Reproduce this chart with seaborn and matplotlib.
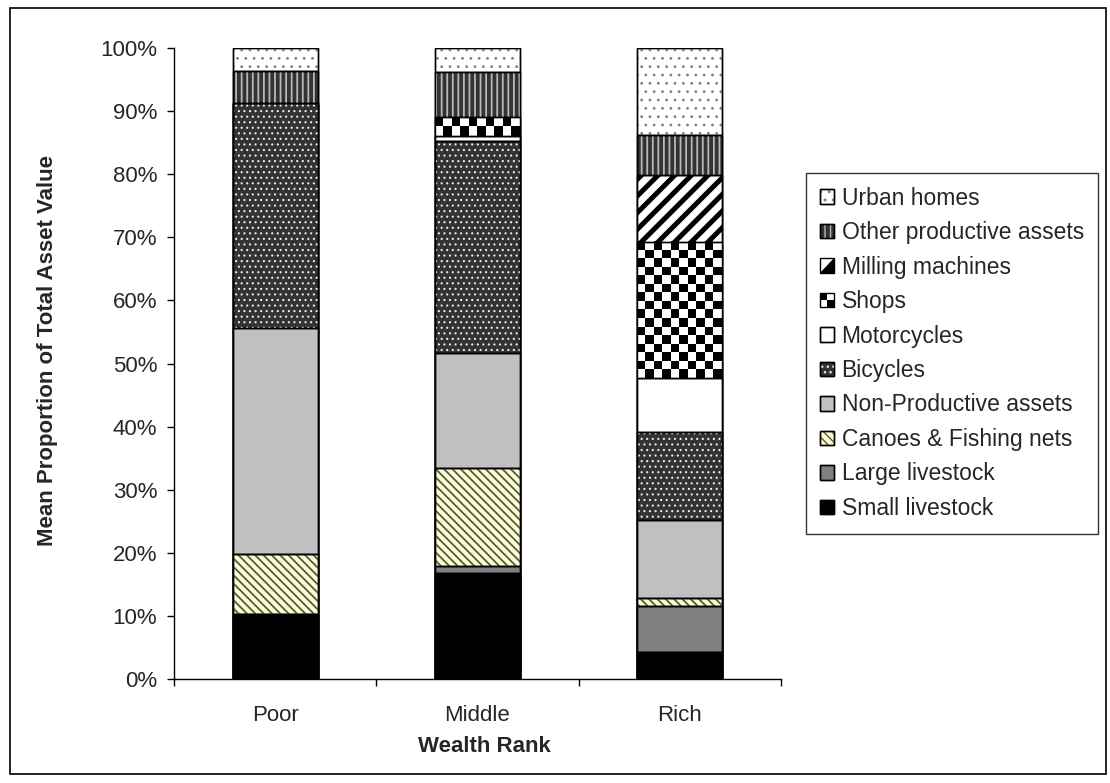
import numpy as np
import pandas as pd
import matplotlib
matplotlib.use("Agg")
import matplotlib.pyplot as plt
import seaborn as sns
from matplotlib.patches import Rectangle, Patch, Polygon
from matplotlib.legend_handler import HandlerBase, HandlerTuple

# ---- data: mean share (%) of total asset value by wealth rank ----
ranks = ["Poor", "Middle", "Rich"]
small_livestock = [10.3, 16.8, 4.3]
large_livestock = [0.0, 1.1, 7.3]
canoes_nets = [9.5, 15.5, 1.2]
non_productive = [35.8, 18.3, 12.4]
bicycles = [35.7, 33.6, 13.9]
motorcycles = [0.0, 0.8, 8.6]
shops = [0.0, 3.0, 21.6]
milling_machines = [0.0, 0.0, 10.6]
other_productive = [5.1, 7.1, 6.3]
urban_homes = [3.6, 3.8, 13.8]

asset_names = ["Small livestock", "Large livestock", "Canoes & Fishing nets",
               "Non-Productive assets", "Bicycles", "Motorcycles", "Shops",
               "Milling machines", "Other productive assets", "Urban homes"]
asset_values = [small_livestock, large_livestock, canoes_nets, non_productive,
                bicycles, motorcycles, shops, milling_machines,
                other_productive, urban_homes]

# fill style per asset: face colour, hatch, hatch colour, hatch line width
styles = {
    "Small livestock":         ("#000000", None, None, 0),
    "Large livestock":         ("#808080", None, None, 0),
    "Canoes & Fishing nets":   ("#FFFFCC", "\\\\\\\\", "#555555", 1.3),
    "Non-Productive assets":   ("#C0C0C0", None, None, 0),
    "Bicycles":                ("#333333", "...", "#E8E8E8", 0.8),
    "Motorcycles":             ("#FFFFFF", None, None, 0),
    "Shops":                   ("#FFFFFF", "checker", None, 0),
    "Milling machines":        ("#FFFFFF", "//", "#000000", 3.6),
    "Other productive assets": ("#333333", "|||", "#B8B8B8", 1.3),
    "Urban homes":             ("#FFFFFF", "..", "#808080", 0.8),
}

df = pd.DataFrame({name: vals for name, vals in zip(asset_names, asset_values)},
                   index=ranks)
tops = df.cumsum(axis=1)
bottoms = tops - df

W, H, DPI = 1110, 783, 100
sns.set_style("white")
plt.rcParams["font.family"] = ["Liberation Sans", "DejaVu Sans"]

fig = plt.figure(figsize=(W / DPI, H / DPI), dpi=DPI)
ax_l, ax_b = 174 / W, 1 - 679 / H
ax_w, ax_h = (781 - 174) / W, (679 - 48) / H
ax = fig.add_axes([ax_l, ax_b, ax_w, ax_h])

BAR_W = 0.42
px_per_x = ax_w * W / 3.0
px_per_y = ax_h * H / 100.0


def hatch_patch(xy, w, h, hatch, hcolor, hlw, **kw):
    with plt.rc_context({"hatch.linewidth": hlw}):
        p = Rectangle(xy, w, h, facecolor="none", edgecolor=hcolor,
                      linewidth=0, hatch=hatch, **kw)
    if hasattr(p, "set_hatch_linewidth"):
        p.set_hatch_linewidth(hlw)
    return p


# Stacked bars: draw cumulative totals from the top layer downwards
bar_x = None
for name in reversed(asset_names):
    fc = styles[name][0]
    sns.barplot(x=ranks, y=tops[name].values, order=ranks, color=fc,
                saturation=1, edgecolor="black", linewidth=1.0,
                width=BAR_W, errorbar=None, ax=ax)
    if bar_x is None:
        bar_x = [(p.get_x(), p.get_width()) for p in ax.patches[-3:]]

# Pattern fills on each segment, then crisp segment outlines
for name in asset_names:
    fc, hatch, hcol, hlw = styles[name]
    for i, rank in enumerate(ranks):
        b, t = bottoms.loc[rank, name], tops.loc[rank, name]
        if t - b <= 0:
            continue
        x0, w = bar_x[i]
        if hatch == "checker":
            nx = max(2, int(round(w * px_per_x / 8.6)))
            ny = max(2, int(round((t - b) * px_per_y / 8.6)))
            board = (np.add.outer(np.arange(ny), np.arange(nx)) % 2).astype(float)
            ax.imshow(board, cmap="gray", vmin=0, vmax=1, aspect="auto",
                      interpolation="nearest", extent=(x0, x0 + w, b, t),
                      zorder=2)
        elif hatch:
            ax.add_patch(hatch_patch((x0, b), w, t - b, hatch, hcol, hlw,
                                     zorder=2))
        ax.add_patch(Rectangle((x0, b), w, t - b, facecolor="none",
                               edgecolor="black", linewidth=1.0, zorder=3))

# ---- axes styling ----
ax.set_xlim(-0.5, 2.5)
ax.set_ylim(0, 100)
for s in ("top", "right"):
    ax.spines[s].set_visible(False)
for s in ("left", "bottom"):
    ax.spines[s].set_color("black")
    ax.spines[s].set_linewidth(1.0)

ax.set_yticks(np.arange(0, 101, 10))
ax.set_yticklabels([f"{v}%" for v in range(0, 101, 10)])
ax.set_xticks(range(len(ranks)))
ax.set_xticklabels(ranks)
ax.set_xticks([-0.5, 0.5, 1.5, 2.5], minor=True)
ax.tick_params(axis="y", which="major", direction="out", length=5, width=1,
               color="black", labelsize=16, pad=7, left=True)
ax.tick_params(axis="x", which="major", length=0, labelsize=16, pad=19)
ax.tick_params(axis="x", which="minor", direction="out", length=5, width=1,
               color="black", bottom=True)

ax.set_ylabel("Mean Proportion of Total Asset Value", fontsize=16,
              fontweight="bold")
ax.set_xlabel("Wealth Rank", fontsize=16, fontweight="bold")
ax.yaxis.set_label_coords((58 - 174) / 607, 0.52)
ax.xaxis.set_label_coords(0.511, (679 - 736) / 631)


# ---- legend ----
class CheckerHandler(HandlerBase):
    def create_artists(self, legend, orig_handle, xdescent, ydescent,
                       width, height, fontsize, trans):
        arts = []
        hw, hh = width / 2, height / 2
        for r in range(2):
            for c in range(2):
                col = "black" if (r + c) % 2 == 0 else "white"
                arts.append(Rectangle((-xdescent + c * hw, -ydescent + (1 - r) * hh),
                                      hw, hh, facecolor=col, edgecolor="none",
                                      transform=trans))
        arts.append(Rectangle((-xdescent, -ydescent), width, height,
                              facecolor="none", edgecolor="black",
                              linewidth=1.0, transform=trans))
        return arts


class DiagonalHandler(HandlerBase):
    def create_artists(self, legend, orig_handle, xdescent, ydescent,
                       width, height, fontsize, trans):
        x0, y0 = -xdescent, -ydescent
        tri = Polygon([(x0 + width, y0 + height), (x0 + width, y0), (x0, y0)],
                      closed=True, facecolor="black", edgecolor="none",
                      transform=trans)
        box = Rectangle((x0, y0), width, height, facecolor="none",
                        edgecolor="black", linewidth=1.0, transform=trans)
        return [tri, box]


class CheckerKey:
    pass


class DiagonalKey:
    pass


handles, labels, handler_map = [], [], {}
for name in reversed(asset_names):
    fc, hatch, hcol, hlw = styles[name]
    if hatch == "checker":
        h = CheckerKey()
        handler_map[CheckerKey] = CheckerHandler()
    elif name == "Milling machines":
        h = DiagonalKey()
        handler_map[DiagonalKey] = DiagonalHandler()
    else:
        parts = [Patch(facecolor=fc, edgecolor="black", linewidth=1.0)]
        if hatch:
            parts.append(hatch_patch((0, 0), 1, 1, hatch, hcol, hlw))
        parts.append(Patch(facecolor="none", edgecolor="black", linewidth=1.0))
        h = tuple(parts)
    handles.append(h)
    labels.append(name)
handler_map[tuple] = HandlerTuple(ndivide=1, pad=0)

leg = fig.legend(handles, labels, handler_map=handler_map,
                 loc="upper left", bbox_to_anchor=(806 / W, 1 - 173 / H),
                 bbox_transform=fig.transFigure, frameon=True, fancybox=False,
                 edgecolor="black", fontsize=16.5, handlelength=0.6,
                 handleheight=0.6, handletextpad=0.35, labelspacing=0.5,
                 borderpad=0.6, borderaxespad=0)
leg.get_frame().set_linewidth(1.0)

# outer chart border
fig.patches.append(Rectangle((10 / W, 1 - 774 / H), (1106 - 10) / W,
                             (774 - 8) / H, transform=fig.transFigure,
                             facecolor="none", edgecolor="black",
                             linewidth=1.2))

fig.savefig("out.png", dpi=DPI, facecolor="white")
